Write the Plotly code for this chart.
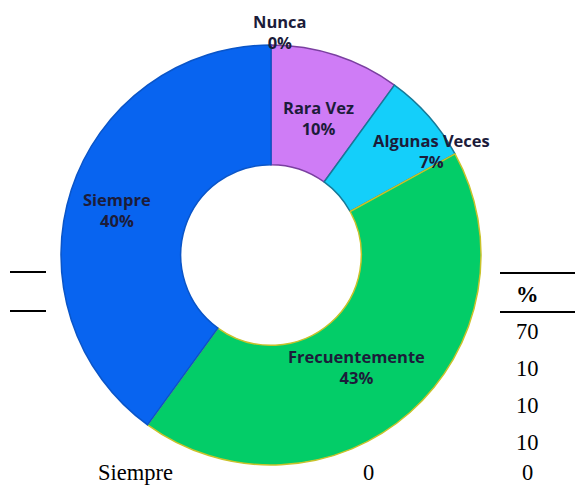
import plotly.graph_objects as go

# Data
categories = ["Nunca", "Rara Vez", "Algunas Veces", "Frecuentemente", "Siempre"]
percentages = [0, 10, 7, 43, 40]
colors = ["#9A9A9A", "#CF7CF6", "#14CFFA", "#03CD68", "#0864F0"]
borders = ["#555555", "#7A3FA0", "#167A99", "#C9C22A", "#0A55C8"]

# Table fragments (residual text around the chart)
table_header = "%"
table_values = ["70", "10", "10", "10"]
table_last_row = ["Siempre", "0", "0"]

W, H = 575, 490
cx, cy, R = 271, 255, 210

fig = go.Figure(go.Pie(
    labels=categories,
    values=percentages,
    sort=False,
    direction="clockwise",
    rotation=0,
    hole=0.43,
    marker=dict(colors=colors, line=dict(color=borders, width=1.5)),
    textinfo="none",
    hoverinfo="label+percent",
    domain=dict(x=[(cx - R) / W, (cx + R) / W], y=[1 - (cy + R) / H, 1 - (cy - R) / H]),
    showlegend=False,
))

# Slice labels (positions in pixels, converted to paper)
label_pos = {
    "Nunca": (280, 32),
    "Rara Vez": (318, 118),
    "Algunas Veces": (432, 151),
    "Frecuentemente": (356, 367),
    "Siempre": (117, 210),
}
annotations = []
for cat, pct in zip(categories, percentages):
    x, y = label_pos[cat]
    annotations.append(dict(
        x=x / W, y=1 - y / H, xref="paper", yref="paper",
        text=f"<b>{cat}<br>{pct}%</b>", showarrow=False,
        font=dict(family="Open Sans, sans-serif", size=16.5, color="#1C1C3A"),
        align="center", xanchor="center", yanchor="middle",
    ))

serif = dict(family="Liberation Serif, Times New Roman, serif", size=22.5, color="black")
annotations.append(dict(x=527 / W, y=1 - 294 / H, xref="paper", yref="paper",
                        text=f"<b>{table_header}</b>", showarrow=False, font=serif,
                        xanchor="center", yanchor="middle"))
for i, v in enumerate(table_values):
    yy = 331 + i * 37
    annotations.append(dict(x=527 / W, y=1 - yy / H, xref="paper", yref="paper",
                            text=v, showarrow=False, font=serif,
                            xanchor="center", yanchor="middle"))
for txt, xx in zip(table_last_row, [135, 368, 527]):
    annotations.append(dict(x=xx / W, y=1 - 472 / H, xref="paper", yref="paper",
                            text=txt, showarrow=False, font=serif,
                            xanchor="center", yanchor="middle"))

shapes = []
for (x0, x1, y) in [(10, 46, 272), (10, 46, 311), (500, 575, 273), (500, 575, 312)]:
    shapes.append(dict(type="line", xref="paper", yref="paper",
                       x0=x0 / W, x1=x1 / W, y0=1 - y / H, y1=1 - y / H,
                       line=dict(color="black", width=2)))

fig.update_layout(
    width=W, height=H,
    margin=dict(l=0, r=0, t=0, b=0),
    paper_bgcolor="white", plot_bgcolor="white",
    annotations=annotations, shapes=shapes,
)

fig.write_html("out.html",
               config={"displayModeBar": False},
               post_script="document.body.style.margin='0';document.body.style.overflow='hidden';")
